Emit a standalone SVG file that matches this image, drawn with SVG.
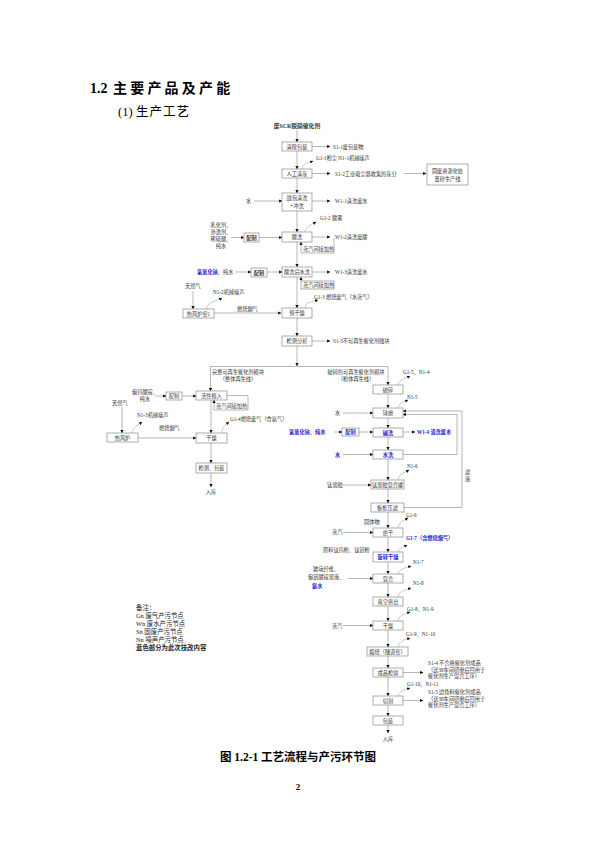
<svg xmlns="http://www.w3.org/2000/svg" width="595" height="842" viewBox="0 0 595 842">
<defs>
<style>
text{font-family:"Liberation Serif","Noto Sans CJK SC",serif;font-size:5.2px;fill:#333}
.b{fill:#fff;stroke:#8a8a8a;stroke-width:0.7}
.c{fill:none;stroke:#888;stroke-width:0.6;marker-end:url(#ah)}
.l{fill:none;stroke:#888;stroke-width:0.6}
.sq{fill:none;stroke:#888;stroke-width:0.45;marker-end:url(#ah)}
.m{text-anchor:middle}
.bl{fill:#2323d0}
.bd{font-weight:bold}
.lg{font-size:6.4px;fill:#222}
</style>
<marker id="ah" viewBox="0 0 6 6" refX="5.5" refY="3" markerWidth="3.2" markerHeight="3.2" orient="auto" markerUnits="userSpaceOnUse"><path d="M0,0 L6,3 L0,6 Z" fill="#111"/></marker>
</defs>
<rect width="595" height="842" fill="#fff"/>
<text x="90" y="93" style="font-size:14px;font-weight:bold;fill:#000">1.2 <tspan x="113" style="letter-spacing:3.2px">主要产品及产能</tspan></text>
<text x="118" y="116" style="font-size:12.5px;fill:#000">(1)<tspan x="136" style="letter-spacing:1px">生产工艺</tspan></text>
<text x="297" y="128" class="m bd" style="font-size:5.8px">废SCR脱硝催化剂</text>

<g id="connectors">
<path class="c" d="M297,130 V142"/>
<path class="c" d="M297,151 V169"/>
<path class="c" d="M297,178 V193"/>
<path class="c" d="M297,211 V232"/>
<path class="c" d="M297,242 V267"/>
<path class="c" d="M297,277 V308"/>
<path class="c" d="M297,318 V336"/>
<path class="c" d="M297,346 V366"/>
<path class="l" d="M210,366.5 H388"/>
<path class="c" d="M210.5,366.5 V391"/>
<path class="c" d="M388,366.5 V385"/>
<path class="c" d="M312,146.5 H330"/>
<path class="c" d="M312,173.5 H330"/>
<path class="c" d="M404,173.5 H426"/>
<path class="c" d="M254,201 H282"/>
<path class="c" d="M312,201 H330"/>
<path class="c" d="M231,237.5 H244"/>
<path class="c" d="M259,237.5 H282"/>
<path class="c" d="M312,237 H330"/>
<path class="c" d="M334,238 V253 H301 V242"/>
<path class="c" d="M235,272 H251"/>
<path class="c" d="M267,272 H282"/>
<path class="c" d="M312,272 H330"/>
<path class="c" d="M301,281 V277"/>
<path class="c" d="M193,291 V309"/>
<path class="c" d="M214,313 H281"/>
<path class="c" d="M312,341 H330"/>
<path class="c" d="M155,396 H166"/>
<path class="c" d="M182,396 H196"/>
<path class="c" d="M227,395.5 H248 V410 H214 V400"/>
<path class="c" d="M211,400 V433"/>
<path class="c" d="M122,407 V433"/>
<path class="c" d="M138,438 H196"/>
<path class="c" d="M211,443 V463"/>
<path class="c" d="M211,473 V487"/>
<path class="c" d="M388,394 V408"/>
<path class="c" d="M343,413 H373"/>
<path class="c" d="M388,418 V428"/>
<path class="c" d="M334,432 H342"/>
<path class="c" d="M359,432 H373"/>
<path class="c" d="M403,432 H415"/>
<path class="c" d="M388,437 V450"/>
<path class="c" d="M343,454.5 H373"/>
<path class="c" d="M403,454.5 H457 V414.5 H403"/>
<path class="c" d="M404,507.5 H462 V411 H403"/>
<path class="c" d="M388,459 V480"/>
<path class="c" d="M343,485 H371"/>
<path class="c" d="M388,489 V503"/>
<path class="c" d="M388,512 V528"/>
<path class="c" d="M343,532.5 H373"/>
<path class="c" d="M388,537 V552"/>
<path class="c" d="M388,562 V574"/>
<path class="c" d="M348,578.5 H373"/>
<path class="c" d="M388,583 V597"/>
<path class="c" d="M388,606 V621"/>
<path class="c" d="M343,625.5 H373"/>
<path class="c" d="M388,630 V647"/>
<path class="c" d="M388,656 V668"/>
<path class="c" d="M403,672.5 H423"/>
<path class="c" d="M388,677 V696"/>
<path class="c" d="M403,700.5 H423"/>
<path class="c" d="M388,705 V716"/>
<path class="c" d="M388,725 V733"/>
<path class="sq" d="M302,169 C303,163 308,163 313,161"/>
<path class="sq" d="M305,232 C306,226 311,225 316,222"/>
<path class="sq" d="M206,309 C208,302 214,302 222,298"/>
<path class="sq" d="M305,308 C306,302 311,302 318,300"/>
<path class="sq" d="M132,433 C133,427 137,426 142,422"/>
<path class="sq" d="M222,433 C222,427 225,425 229,422"/>
<path class="sq" d="M398,385 C399,380 404,379 410,376"/>
<path class="sq" d="M398,408 C399,403 403,402 408,400"/>
<path class="sq" d="M398,480 C399,474 404,473 409,470"/>
<path class="sq" d="M398,528 C399,522 403,521 408,518"/>
<path class="sq" d="M398,552 C399,548 403,547 407,545"/>
<path class="sq" d="M398,574 C399,569 405,568 411,566"/>
<path class="sq" d="M398,597 C399,591 405,590 411,588"/>
<path class="sq" d="M398,621 C399,615 404,614 410,612"/>
<path class="sq" d="M398,647 C399,641 404,640 410,638"/>
<path class="sq" d="M398,696 C399,691 404,690 410,688"/>
</g>

<g id="main">
<g id="n-qcbz"><rect class="b" x="282" y="142" width="30" height="9"/><text x="297" y="148.5" class="m">清除包装</text></g>
<g id="n-rgqh"><rect class="b" x="282" y="169" width="30" height="9"/><text x="297" y="175.5" class="m">人工清灰</text></g>
<g id="n-gpqx"><rect class="b" x="282" y="193" width="30" height="18"/><text x="297" y="200" class="m">鼓泡清洗</text><text x="297" y="207.5" class="m">+冲洗</text></g>
<g id="n-sx"><rect class="b" x="282" y="232" width="30" height="10"/><text x="297" y="239" class="m">酸洗</text></g>
<g id="n-sxhsx"><rect class="b" x="282" y="267" width="30" height="10"/><text x="297" y="274" class="m">酸洗后水洗</text></g>
<g id="n-ygz"><rect class="b" x="282" y="308" width="30" height="10"/><text x="297" y="315" class="m">预干燥</text></g>
<g id="n-jcfx"><rect class="b" x="282" y="336" width="30" height="10"/><text x="297" y="343" class="m">检测分析</text></g>
<g id="n-gf"><rect class="b" x="427" y="164" width="41" height="21"/><text x="447.5" y="172.5" class="m">固废资源化处</text><text x="447.5" y="180.5" class="m">置砂生产线</text></g>
<g id="n-pz1"><rect class="b" x="244" y="233" width="15" height="9"/><text x="251.5" y="239.5" class="m bd">配制</text></g>
<g id="n-pz2"><rect class="b" x="251" y="268" width="16" height="9"/><text x="259" y="274.5" class="m bd">配制</text></g>
<g id="n-steam1"><text x="303" y="251">蒸汽间接加热</text></g>
<g id="n-steam2"><rect class="b" x="301" y="281" width="33" height="8"/><text x="303" y="287">蒸汽间接加热</text></g>
<g id="n-rfl1"><rect class="b" x="183" y="309" width="31" height="9"/><text x="198.5" y="315.5" class="m">热风炉窑1</text></g>
<text x="333" y="148.5">S1-1废包装物</text>
<text x="316" y="159.5">G1-1粉尘  N1-1机械噪声</text>
<text x="335" y="175.5">S1-2工业吸尘器收集的灰分</text>
<text x="246" y="203">水</text>
<text x="335" y="203">W1-1清洗废水</text>
<text x="320" y="220">G1-2 酸雾</text>
<text x="221" y="227" class="m">乳化剂、</text>
<text x="221" y="234" class="m">渗透剂、</text>
<text x="221" y="241" class="m">稀硫酸、</text>
<text x="221" y="248" class="m">纯水</text>
<text x="335" y="239">W1-2清洗废酸</text>
<text x="197" y="274"><tspan class="bl bd">氢氧化钠</tspan>、纯水</text>
<text x="335" y="274">W1-3清洗废水</text>
<text x="185" y="288">天然气</text>
<text x="213" y="294">N1-2机械噪声</text>
<text x="314" y="299">G1-3 燃烧废气（水蒸气）</text>
<text x="237" y="311">燃烧烟气</text>
<text x="333" y="343">S1-3不可再生催化剂残块</text>
<text x="238" y="374" class="m">完整可再生催化剂模块</text>
<text x="238" y="381" class="m">（整体再生线）</text>
<text x="356" y="374" class="m">破碎的可再生催化剂模块</text>
<text x="356" y="381" class="m">（粉体再生线）</text>
</g>

<g id="left">
<g id="n-pz3"><rect class="b" x="166" y="392" width="16" height="8"/><text x="174" y="398" class="m">配制</text></g>
<g id="n-hxzr"><rect class="b" x="196" y="391" width="31" height="9"/><text x="211.5" y="397.5" class="m">活性植入</text></g>
<g id="n-steam3"><text x="216" y="408">蒸汽间接加热</text></g>
<g id="n-rfl2"><rect class="b" x="107" y="433" width="31" height="9"/><text x="122.5" y="439.5" class="m">热风炉</text></g>
<g id="n-gz1"><rect class="b" x="196" y="433" width="31" height="10"/><text x="211.5" y="440" class="m">干燥</text></g>
<g id="n-jcbz"><rect class="b" x="196" y="463" width="31" height="10"/><text x="211.5" y="470" class="m">检测、包装</text></g>
<text x="145" y="393.5" class="m">偏钨酸铵、</text>
<text x="145" y="400.5" class="m">纯水</text>
<text x="112" y="405">天然气</text>
<text x="137" y="417">N1-3机械噪声</text>
<text x="159" y="430">燃烧烟气</text>
<text x="230" y="421">G1-4燃烧废气（含氨气）</text>
<text x="211" y="494" class="m">入库</text>
</g>

<g id="right">
<g id="n-ps"><rect class="b" x="373" y="385" width="30" height="9"/><text x="388" y="391.5" class="m">破碎</text></g>
<g id="n-qm"><rect class="b" x="373" y="408" width="30" height="10"/><text x="388" y="415" class="m">球磨</text></g>
<g id="n-pz4"><rect class="b" x="342" y="428" width="17" height="8"/><text x="350.5" y="434" class="m bl bd">配制</text></g>
<g id="n-jx"><rect class="b" x="373" y="428" width="30" height="9"/><text x="388" y="434.5" class="m bl bd">碱洗</text></g>
<g id="n-sxw"><rect class="b" x="373" y="450" width="30" height="9"/><text x="388" y="456.5" class="m bl bd">水洗</text></g>
<g id="n-trj"><rect class="b" x="371" y="480" width="33" height="9"/><text x="387.5" y="486.5" class="m">钛溶胶混合罐</text></g>
<g id="n-bkyl"><rect class="b" x="371" y="503" width="33" height="9"/><text x="387.5" y="509.5" class="m">板框压滤</text></g>
<g id="n-hg"><rect class="b" x="373" y="528" width="30" height="9"/><text x="388" y="534.5" class="m">烘干</text></g>
<g id="n-xzgz"><rect class="b" x="373" y="552" width="30" height="10"/><text x="388" y="559" class="m bl bd">旋转干燥</text></g>
<g id="n-hh"><rect class="b" x="373" y="574" width="30" height="9"/><text x="388" y="580.5" class="m">混合</text></g>
<g id="n-zkjc"><rect class="b" x="373" y="597" width="30" height="9"/><text x="388" y="603.5" class="m">真空挤出</text></g>
<g id="n-gz2"><rect class="b" x="373" y="621" width="30" height="9"/><text x="388" y="627.5" class="m">干燥</text></g>
<g id="n-ds"><rect class="b" x="367" y="647" width="41" height="9"/><text x="387.5" y="653.5" class="m">煅烧（隧道窑）</text></g>
<g id="n-cpjy"><rect class="b" x="373" y="668" width="30" height="9"/><text x="388" y="674.5" class="m">成品检验</text></g>
<g id="n-qg"><rect class="b" x="373" y="696" width="30" height="9"/><text x="388" y="702.5" class="m">切割</text></g>
<g id="n-bz"><rect class="b" x="373" y="716" width="30" height="9"/><text x="388" y="722.5" class="m">包装</text></g>
<text x="403" y="374">G1-5、N1-4</text>
<text x="407" y="398.5">N1-5</text>
<text x="335" y="415">水</text>
<text x="289" y="434" class="bl bd">氢氧化钠、纯水</text>
<text x="417" y="434" class="bl bd">W1-4 清洗废水</text>
<text x="335" y="456.5" class="bl bd">水</text>
<text x="465" y="474">滤</text>
<text x="465" y="481">液</text>
<text x="407" y="468">N1-6</text>
<text x="327" y="487">钛溶胶</text>
<text x="406" y="517">G1-6</text>
<text x="364" y="523.5">固体物</text>
<text x="332" y="534">蒸汽</text>
<text x="406" y="540" class="bl bd">G1-7（含燃烧烟气）</text>
<text x="323" y="551.5">原料钛钨粉、钛钼粉</text>
<text x="413" y="564">N1-7</text>
<text x="313" y="571">玻璃纤维、</text>
<text x="308" y="579">偏钒酸铵溶液、</text>
<text x="312" y="587.5" class="bl bd">氨水</text>
<text x="413" y="585">N1-8</text>
<text x="407" y="611">G1-8、N1-9</text>
<text x="332" y="627.5">蒸汽</text>
<text x="406" y="636">G1-9、N1-10</text>
<text x="428" y="665">S1-4 不合格催化剂成品</text>
<text x="428" y="671.5">（送38车间研磨后回用于</text>
<text x="428" y="678">催化剂生产混合工序）</text>
<text x="407" y="686">G1-10、N1-11</text>
<text x="428" y="694">S1-5 边角料催化剂成品</text>
<text x="428" y="700.5">（送38车间研磨后回用于</text>
<text x="428" y="707">催化剂生产混合工序）</text>
<text x="388" y="740.5" class="m">入库</text>
</g>

<g id="legend">
<text x="136" y="610" class="lg">备注：</text>
<text x="136" y="618" class="lg">Gn 废气产污节点</text>
<text x="136" y="626" class="lg">Wn 废水产污节点</text>
<text x="136" y="634" class="lg">Sn 固废产污节点</text>
<text x="136" y="642" class="lg">Nn 噪声产污节点</text>
<text x="136" y="650" class="lg bl bd">蓝色部分为此次技改内容</text>
</g>
<text x="298" y="761" class="m" style="font-size:11.5px;font-weight:bold;fill:#000">图 1.2-1 工艺流程与产污环节图</text>
<text x="298" y="790" class="m" style="font-size:9px;font-weight:bold;fill:#000">2</text>
</svg>
